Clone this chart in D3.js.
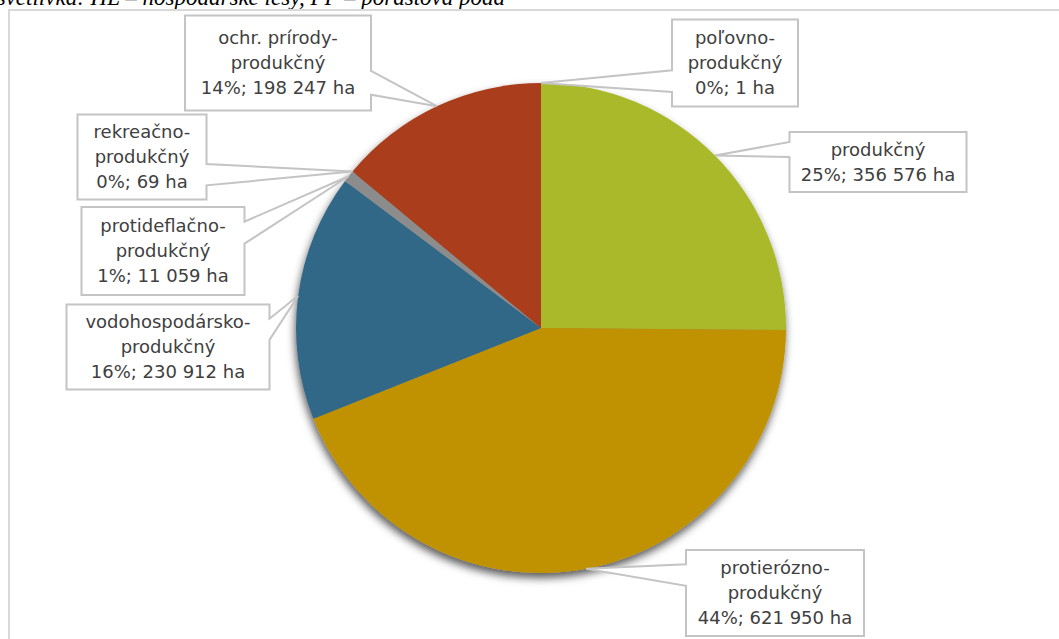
<!DOCTYPE html>
<html>
<head>
<meta charset="utf-8">
<script src="https://cdn.jsdelivr.net/npm/d3@7"></script>
<style>
  body { margin: 0; background: #fff; }
</style>
</head>
<body>
<script>
const WIDTH = 1059;
const HEIGHT = 639;

// data, clockwise from 12 o'clock
var CATEGORIES = ["poľovno-produkčný", "produkčný", "protierózno-produkčný", "vodohospodársko-produkčný",
  "protideflačno-produkčný", "rekreačno-produkčný", "ochr. prírody-produkčný"];
var VALUES = [1, 356576, 621950, 230912, 11059, 69, 198247];
var COLORS = ["#7a8a1e", "#a9b92b", "#c09100", "#336887", "#8c8c8c", "#7f7f7f", "#a93c1a"];

// label boxes (center x, center y, width, height) - layout only
var BOXES = [
  [735, 63, 126, 87],
  [878, 162, 177, 60],
  [775, 593, 178, 86],
  [168, 347, 203, 85],
  [163, 251, 163, 88],
  [142, 157, 129, 85],
  [278, 63, 186, 95]
];

var cx = 541, cy = 328, R = 245;

var svg = d3.select("body").append("svg")
  .attr("width", WIDTH)
  .attr("height", HEIGHT);

var defs = svg.append("defs");
var filt = defs.append("filter").attr("id", "shadow")
  .attr("x", "-20%").attr("y", "-20%").attr("width", "140%").attr("height", "140%");
filt.append("feDropShadow")
  .attr("dx", -1).attr("dy", 5).attr("stdDeviation", 4)
  .attr("flood-color", "#000").attr("flood-opacity", 0.65);

// caption, cut off at the top like in the source
svg.append("text")
  .attr("x", 505).attr("y", 5)
  .attr("text-anchor", "end")
  .attr("font-family", "Liberation Serif")
  .attr("font-style", "italic")
  .attr("font-size", "23px")
  .attr("fill", "#000")
  .text("Vysvetlivka: HL – hospodárske lesy, PP – porastová pôda");

// chart frame
svg.append("rect")
  .attr("x", 9).attr("y", 10)
  .attr("width", WIDTH + 20).attr("height", HEIGHT + 20)
  .attr("fill", "none")
  .attr("stroke", "#d9d9d9")
  .attr("stroke-width", 2);

var pie = d3.pie().sort(null).value(d => d);
var arcs = pie(VALUES);
var arc = d3.arc().innerRadius(0).outerRadius(R);

var g = svg.append("g").attr("transform", "translate(" + cx + "," + cy + ")");
g.append("g").attr("filter", "url(#shadow)")
  .selectAll("path")
  .data(arcs)
  .enter()
  .append("path")
  .attr("d", arc)
  .attr("fill", (d, i) => COLORS[i]);

var total = d3.sum(VALUES);
var fmt = d3.format(",");

// office style wedgeRectCallout
function callout(box, tx, ty) {
  var l = box[0] - box[2] / 2, t = box[1] - box[3] / 2;
  var w = box[2], h = box[3], r = l + w, b = t + h;
  var dx = tx - box[0], dy = ty - box[1];
  var horiz = Math.abs(dy) < Math.abs(dx * h / w);
  var x1 = l + w * (dx > 0 ? 7 : 2) / 12, x2 = l + w * (dx > 0 ? 10 : 5) / 12;
  var y1 = t + h * (dy > 0 ? 7 : 2) / 12, y2 = t + h * (dy > 0 ? 10 : 5) / 12;
  var p = "M" + l + "," + t;
  if (!horiz && dy < 0) p += "L" + x1 + "," + t + "L" + tx + "," + ty + "L" + x2 + "," + t;
  p += "L" + r + "," + t;
  if (horiz && dx > 0) p += "L" + r + "," + y1 + "L" + tx + "," + ty + "L" + r + "," + y2;
  p += "L" + r + "," + b;
  if (!horiz && dy > 0) p += "L" + x2 + "," + b + "L" + tx + "," + ty + "L" + x1 + "," + b;
  p += "L" + l + "," + b;
  if (horiz && dx < 0) p += "L" + l + "," + y2 + "L" + tx + "," + ty + "L" + l + "," + y1;
  return p + "Z";
}

var labels = svg.selectAll("g.lbl")
  .data(arcs)
  .enter()
  .append("g")
  .attr("class", "lbl");

labels.append("path")
  .attr("d", (d, i) => {
    var a = (d.startAngle + d.endAngle) / 2;
    var tx = cx + R * Math.sin(a), ty = cy - R * Math.cos(a);
    return callout(BOXES[i], tx, ty);
  })
  .attr("fill", "#fff")
  .attr("stroke", "#c4c4c4")
  .attr("stroke-width", 2);

labels.each(function (d, i) {
  var lines = CATEGORIES[i].replace(/-/g, "-\n").split("\n");
  var pct = Math.round(d.value / total * 100);
  lines.push(pct + "%; " + fmt(d.value).replace(/,/g, " ") + " ha");
  var box = BOXES[i];
  var lh = 25;
  var y0 = box[1] - (lines.length - 1) * lh / 2;
  d3.select(this).selectAll("text")
    .data(lines)
    .enter()
    .append("text")
    .attr("x", box[0])
    .attr("y", (s, k) => y0 + k * lh)
    .attr("dy", "0.36em")
    .attr("text-anchor", "middle")
    .attr("font-family", "DejaVu Sans")
    .attr("font-size", "18px")
    .attr("fill", "#404040")
    .text(s => s);
});
</script>
</body>
</html>
